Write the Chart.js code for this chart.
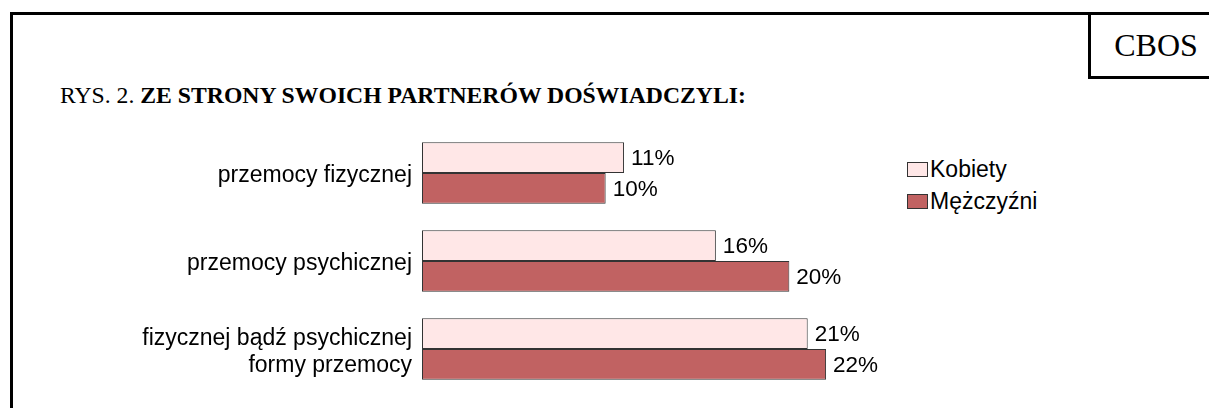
<!DOCTYPE html>
<html>
<head>
<meta charset="utf-8">
<script src="https://cdn.jsdelivr.net/npm/chart.js@4.4.1/dist/chart.umd.min.js"></script>
<style>
  body { margin: 0; width: 1209px; height: 408px; overflow: hidden; background: #fff; position: relative; }
  #frame { position: absolute; left: 10px; top: 12px; width: 1400px; height: 600px; border-left: 3px solid #000; border-top: 3px solid #000; }
  #cbos { position: absolute; left: 1088px; top: 12px; width: 130px; height: 61px; border: 3px solid #000;
          display: flex; align-items: center; justify-content: center;
          font: 32px "Liberation Serif", "Times New Roman", serif; }
  #title { position: absolute; left: 60px; top: 84px; font: 23.7px/23px "Liberation Serif", "Times New Roman", serif; white-space: nowrap; }
  #title b { font-weight: bold; }
  #legend { position: absolute; left: 907px; top: 153px; font: 23px "Liberation Sans", Arial, sans-serif; }
  .row { display: flex; align-items: center; height: 32px; }
  .box { width: 19px; height: 13px; border: 1px solid #333; margin-right: 2px; }
  canvas { position: absolute; left: 0; top: 0; }
</style>
</head>
<body>
<div id="frame"></div>
<div id="cbos">CBOS</div>
<div id="title">RYS. 2. <b>ZE STRONY SWOICH PARTNERÓW DOŚWIADCZYLI:</b></div>
<div id="legend"></div>
<canvas id="chart" width="1209" height="408"></canvas>
<script>
const categories = ['przemocy fizycznej', 'przemocy psychicznej', ['fizycznej bądź psychicznej', 'formy przemocy']];
const seriesNames = ['Kobiety', 'Mężczyźni'];
const kobiety = [11, 16, 21];
const mezczyzni = [10, 20, 22];
const seriesColors = ['#FFE7E7', '#C16262'];

// value labels to the right of each bar
const valueLabels = {
    id: 'valueLabels',
    afterDatasetsDraw(chart) {
        const ctx = chart.ctx;
        ctx.save();
        ctx.font = '22.5px "Liberation Sans", Arial, sans-serif';
        ctx.fillStyle = '#000';
        ctx.textAlign = 'left';
        ctx.textBaseline = 'middle';
        chart.data.datasets.forEach((ds, i) => {
            chart.getDatasetMeta(i).data.forEach((bar, j) => {
                ctx.fillText(ds.data[j] + '%', bar.x + 7, bar.y + 1);
            });
        });
        ctx.restore();
    }
};

const chart = new Chart(document.getElementById('chart'), {
    type: 'bar',
    data: {
        labels: categories,
        datasets: [kobiety, mezczyzni].map((vals, i) => ({
            label: seriesNames[i],
            data: vals,
            backgroundColor: seriesColors[i],
            borderColor: '#333',
            borderWidth: 1,
            borderSkipped: false,
            categoryPercentage: 0.7,
            barPercentage: 1.0,
        })),
    },
    options: {
        indexAxis: 'y',
        responsive: false,
        animation: false,
        layout: { padding: { left: 0, right: 236, top: 129, bottom: 15 } },
        plugins: {
            legend: { display: false },
            tooltip: { enabled: false },
        },
        scales: {
            x: { display: false, min: 0, max: 30 },
            y: {
                grid: { display: false, drawTicks: false },
                border: { display: false },
                ticks: {
                    color: '#000',
                    padding: 10,
                    labelOffset: 3,
                    font: { family: '"Liberation Sans", Arial, sans-serif', size: 23, lineHeight: 1.15 },
                },
                afterFit(axis) {
                    axis.width = 422;
                    axis.paddingTop = 0;
                    axis.paddingBottom = 0;
                },
            },
        },
    },
    plugins: [valueLabels],
});

// legend in html, built from the series
const legend = document.getElementById('legend');
seriesNames.forEach((name, i) => {
    const row = document.createElement('div');
    row.className = 'row';
    row.innerHTML = '<span class="box" style="background:' + seriesColors[i] + '"></span>' + name;
    legend.appendChild(row);
});
</script>
</body>
</html>
